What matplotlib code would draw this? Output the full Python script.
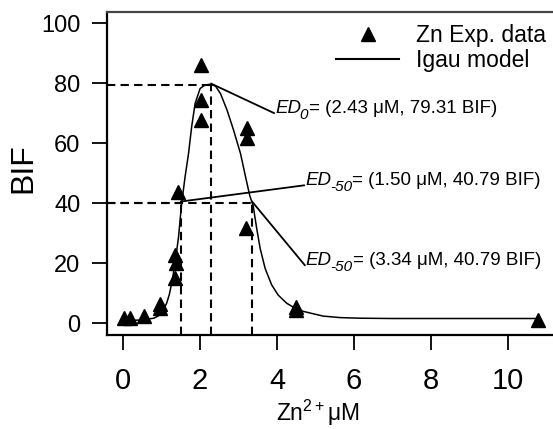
import matplotlib
matplotlib.use('Agg')
import matplotlib.pyplot as plt
from matplotlib.lines import Line2D

plt.rcParams['font.family'] = ['Liberation Sans', 'DejaVu Sans']
plt.rcParams['mathtext.fontset'] = 'custom'
plt.rcParams['mathtext.rm'] = 'Liberation Sans'
plt.rcParams['mathtext.it'] = 'Liberation Sans:italic'
plt.rcParams['mathtext.bf'] = 'Liberation Sans:bold'

# experimental points (Zn2+ uM, BIF)
exp_x = [0.02, 0.19, 0.55, 0.95, 0.97, 1.36, 1.38, 1.36, 1.43, 2.03, 2.03, 2.03, 3.20, 3.22, 3.22, 4.48, 4.50, 10.78]
exp_y = [1.6, 1.6, 2.3, 6.5, 5.0, 14.9, 19.9, 22.7, 43.8, 86.0, 74.3, 67.7, 31.6, 61.6, 64.9, 5.4, 4.4, 1.0]

# Igau model curve
model_x = [0.05, 0.45, 0.80, 0.96, 1.05, 1.13, 1.20, 1.26, 1.35, 1.44, 1.52, 1.61, 1.70, 1.78,
           1.87, 2.00, 2.12, 2.26, 2.40, 2.53, 2.70, 2.87, 3.05, 3.18, 3.29, 3.38, 3.47, 3.56,
           3.69, 3.86, 4.03, 4.25, 4.55, 4.90, 5.20, 5.64, 6.16, 7.0, 8.0, 9.0, 10.0, 10.8]
model_y = [0.8, 1.0, 1.6, 2.7, 4.5, 6.6, 9.5, 13.2, 19.9, 28.8, 39.9, 48.8, 56.6, 65.4,
           73.2, 78.2, 79.3, 79.6, 79.0, 76.5, 71.0, 64.3, 56.5, 48.8, 42.5, 39.0, 31.6, 24.9,
           18.2, 12.7, 9.3, 6.6, 4.3, 3.2, 2.3, 1.8, 1.6, 1.5, 1.5, 1.5, 1.5, 1.5]

# marked ED points (as drawn) and their labels
ed_x = [2.29, 1.50, 3.35]
ed_y = [79.3, 40.0, 40.0]
ed_subs = ['0', '-50', '-50']
ed_values = ['= (2.43 μM, 79.31 BIF)', '= (1.50 μM, 40.79 BIF)', '= (3.34 μM, 40.79 BIF)']
label_x = [3.92, 4.70, 4.72]
label_y = [70.0, 45.9, 19.3]

xmin, xmax = -0.42, 11.25
ymin, ymax = -4, 103.7

fig = plt.figure(figsize=(5.53, 4.29), dpi=100)
ax = fig.add_axes([107/553, (429-335)/429, (556-107)/553, (335-12)/429])

ax.plot(model_x, model_y, color='black', lw=1.1)
ax.plot(exp_x, exp_y, linestyle='none', marker='^', color='black', markersize=10)

dash = (0, (4, 2.5))
for x, y in zip(ed_x, ed_y):
    ax.plot([xmin, x], [y, y], color='black', lw=1.5, linestyle=dash)
    ax.plot([x, x], [ymin, y], color='black', lw=1.5, linestyle=dash)

for x, y, lx, ly, sub, val in zip(ed_x, ed_y, label_x, label_y, ed_subs, ed_values):
    ax.plot([x, lx], [y + 0.5, ly], color='black', lw=1.3)
    t_ed = ax.text(lx + 0.03, ly, 'ED', fontsize=13.5, style='italic', ha='left', va='baseline')
    t_sub = ax.annotate(sub, xy=(1, 0), xycoords=t_ed, xytext=(-1.0, -3.5),
                        textcoords='offset points', fontsize=11, style='italic',
                        ha='left', va='bottom')
    ax.annotate(val, xy=(1, 0), xycoords=(t_sub, t_ed), xytext=(0.3, 0),
                textcoords='offset points', fontsize=13.5, ha='left', va='bottom')

ax.set_xlim(xmin, xmax)
ax.set_ylim(ymin, ymax)
ax.set_xticks([0, 2, 4, 6, 8, 10])
ax.set_yticks([0, 20, 40, 60, 80, 100])
ax.tick_params(axis='x', length=11, width=1.3, pad=12, labelsize=21)
ax.tick_params(axis='y', length=11, width=1.3, pad=8, labelsize=17)
for s in ax.spines.values():
    s.set_linewidth(1.6)
ax.spines['top'].set_color('#444444')
ax.spines['right'].set_visible(False)

ax.set_ylabel('BIF', fontsize=23)
ax.yaxis.set_label_coords((38-107)/449, 0.517)
ax.set_xlabel(r'Zn$^{2+}$μM', fontsize=16.5)
ax.xaxis.set_label_coords((318-107)/449, (335-398)/323)

handles = [Line2D([], [], linestyle='none', marker='^', color='black', markersize=10),
           Line2D([], [], color='black', lw=1.5)]
ax.legend(handles, ['Zn Exp. data', 'Igau model'], loc='upper left',
          bbox_to_anchor=(336/553, 1 - 24/429), bbox_transform=fig.transFigure,
          frameon=False, fontsize=16.5, borderpad=0, borderaxespad=0,
          handlelength=2.75, handletextpad=0.72, labelspacing=0.1)

fig.savefig('out.png', dpi=100)
